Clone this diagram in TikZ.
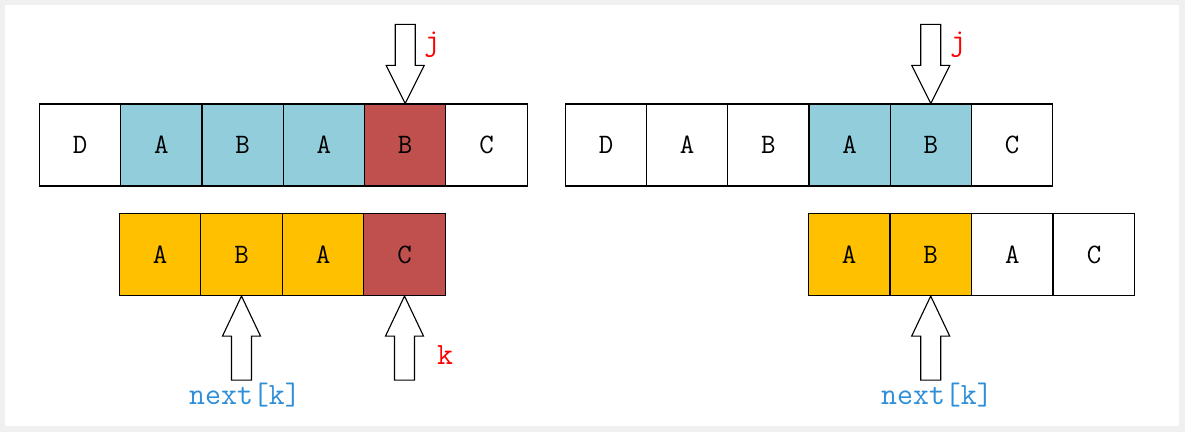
\documentclass[tikz,border=0pt]{standalone}
\usetikzlibrary{positioning}
\definecolor{cellblue}{HTML}{92CDDC}
\definecolor{cellred}{HTML}{C0504D}
\definecolor{cellyellow}{HTML}{FFC000}
\definecolor{labelblue}{HTML}{2E8FD8}
\definecolor{framegray}{HTML}{F0F0F0}
\begin{document}
\begin{tikzpicture}[x=0.025cm, y=-0.025cm,
    every cell/.style={draw, thick, minimum width=2.03cm, minimum height=2.05cm, inner sep=0pt, font=\ttfamily\fontsize{20}{22}\selectfont},
    arrowbox/.style={draw, thick, fill=white},
    redlabel/.style={text=red, font=\ttfamily\fontsize{22}{24}\selectfont},
    bluelabel/.style={text=labelblue, font=\ttfamily\fontsize{22}{24}\selectfont}]

    % Frame
    \fill[framegray] (0,0) rectangle (1185,432);
    \fill[white] (5,5) rectangle (1179,426);

    % Left text row
    \foreach \c/\t/\f [count=\i] in {D/white/white, A/cellblue/cellblue, B/cellblue/cellblue, A/cellblue/cellblue, B/cellred/cellred, C/white/white}
        \node[every cell, fill=\f] (LT-\i) at (80+81.3*\i-81.3, 145) {\c};

    % Left pattern row
    \foreach \c/\f [count=\i] in {A/cellyellow, B/cellyellow, A/cellyellow, C/cellred}
        \node[every cell, fill=\f] (LP-\i) at (160+81.5*\i-81.5, 254.5) {\c};

    % Right text row
    \foreach \c/\f [count=\i] in {D/white, A/white, B/white, A/cellblue, B/cellblue, C/white}
        \node[every cell, fill=\f] (RT-\i) at (606+81.2*\i-81.2, 145) {\c};

    % Right pattern row
    \foreach \c/\f [count=\i] in {A/cellyellow, B/cellyellow, A/white, C/white}
        \node[every cell, fill=\f] (RP-\i) at (849+81.7*\i-81.7, 254.5) {\c};

    % Down arrows for j
    \foreach \n in {LT-5, RT-5}
        \draw[arrowbox] (\n.north) -- ++(-19,-38) -- ++(9,0) -- ++(0,-41) -- ++(20,0) -- ++(0,41) -- ++(9,0) -- cycle;
    \node[redlabel] (LJ) at (432,45) {j};
    \node[redlabel] (RJ) at (958,45) {j};

    % Up arrows for next[k] and k
    \foreach \n in {LP-2, LP-4, RP-2}
        \draw[arrowbox] (\n.south) -- ++(-19,40) -- ++(9,0) -- ++(0,44) -- ++(20,0) -- ++(0,-44) -- ++(9,0) -- cycle;
    \node[redlabel] (LK) at (445,355) {k};
    \node[bluelabel] (LN) at (245,395) {next[k]};
    \node[bluelabel] (RN) at (937,395) {next[k]};

\end{tikzpicture}
\end{document}
